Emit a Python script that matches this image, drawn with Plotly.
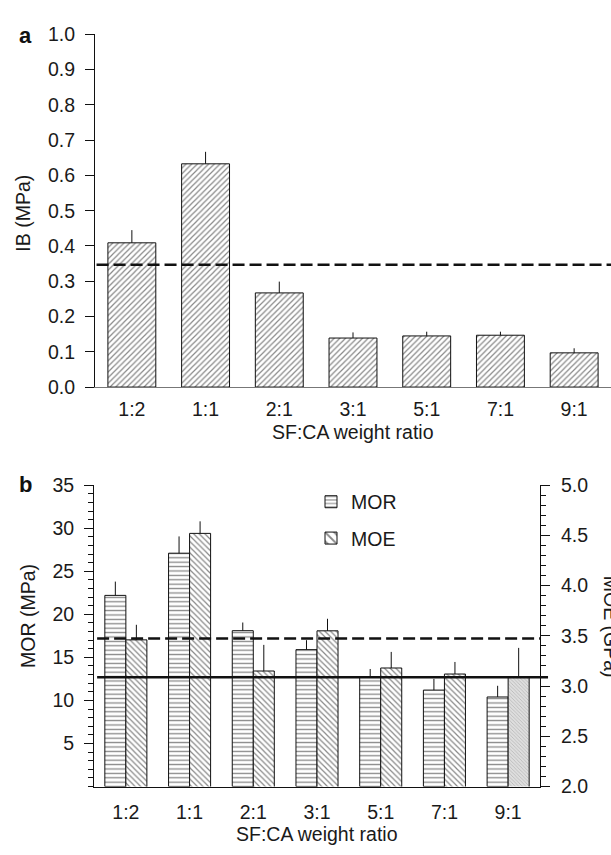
import plotly.graph_objects as go

# ---------------- data ----------------
RATIOS = ["1:2", "1:1", "2:1", "3:1", "5:1", "7:1", "9:1"]

IB = [0.409, 0.633, 0.267, 0.139, 0.145, 0.147, 0.097]
IB_SD = [0.036, 0.034, 0.032, 0.016, 0.012, 0.010, 0.013]
IB_REF = 0.347

MOR = [22.2, 27.1, 18.1, 15.9, 12.7, 11.2, 10.4]
MOR_SD = [1.6, 1.95, 0.95, 1.1, 0.95, 1.3, 1.3]
MOE = [3.46, 4.52, 3.15, 3.55, 3.18, 3.12, 3.09]
MOE_SD = [0.15, 0.12, 0.26, 0.12, 0.16, 0.12, 0.29]
MOR_REF_DASH = 17.2
MOR_REF_SOLID = 12.7

IB_TICKS = [0.0, 0.1, 0.2, 0.3, 0.4, 0.5, 0.6, 0.7, 0.8, 0.9, 1.0]
MOR_TICKS = [5, 10, 15, 20, 25, 30, 35]
MOE_TICKS = [2.0, 2.5, 3.0, 3.5, 4.0, 4.5, 5.0]

# ---------------- layout helpers ----------------
W, H = 611, 855
FONT = "Liberation Sans, Arial, Helvetica, sans-serif"
FS = 19.5


def px_x(v):
    return v / W


def px_y(v):
    return 1 - v / H


fig = go.Figure()

# Panel a bars
fig.add_trace(go.Bar(
    x=RATIOS, y=IB, xaxis="x", yaxis="y", width=0.65, showlegend=False,
    marker=dict(color="white", line=dict(color="#111", width=1),
                pattern=dict(shape="/", size=4, solidity=0.3, fgcolor="#111", bgcolor="white")),
    error_y=dict(type="data", symmetric=False, array=IB_SD, arrayminus=[0] * len(IB),
                 width=0, thickness=1, color="#111"),
))

# Panel b bars
fig.add_trace(go.Bar(
    x=RATIOS, y=MOR, xaxis="x2", yaxis="y2", width=0.33, offset=-0.33, name="MOR",
    legendgroup="g1",
    marker=dict(color="white", line=dict(color="#111", width=1),
                pattern=dict(shape="-", size=4.4, solidity=0.3, fgcolor="#111", bgcolor="white")),
    error_y=dict(type="data", symmetric=False, array=MOR_SD, arrayminus=[0] * len(MOR),
                 width=0, thickness=1, color="#111"),
))
fig.add_trace(go.Bar(
    x=RATIOS, y=MOE, xaxis="x2", yaxis="y3", width=0.33, offset=0.0, name="MOE",
    legendgroup="g2",
    marker=dict(color="white", line=dict(color="#111", width=1),
                pattern=dict(shape="\\", size=[4] * 6 + [2.5], solidity=0.3,
                             fgcolor=["#111"] * 6 + ["#8a8a8a"],
                             bgcolor=["white"] * 6 + ["#dedede"])),
    error_y=dict(type="data", symmetric=False, array=MOE_SD, arrayminus=[0] * len(MOE),
                 width=0, thickness=1, color="#111"),
))

tickfont = dict(family=FONT, size=FS, color="#1a1a1a")

fig.update_layout(
    width=W, height=H, margin=dict(l=0, r=0, t=0, b=0),
    paper_bgcolor="white", plot_bgcolor="rgba(0,0,0,0)",
    font=dict(family=FONT, size=FS, color="#1a1a1a"),
    showlegend=True,
    legend=dict(x=px_x(311), y=px_y(484), xanchor="left", yanchor="top",
                bgcolor="rgba(0,0,0,0)", font=dict(family=FONT, size=FS),
                tracegroupgap=8, traceorder="grouped"),
    xaxis=dict(domain=[px_x(95), 1.0], anchor="y", range=[-0.5, 6.5], type="category",
               showline=True, linecolor="#777", linewidth=1, ticks="", showgrid=False,
               zeroline=False, tickfont=tickfont, ticklabelstandoff=5),
    yaxis=dict(domain=[px_y(386), px_y(24)], anchor="x", range=[0, 1.0],
               tickvals=IB_TICKS, tickformat=".1f", ticks="outside", ticklen=9,
               tickcolor="#111", showline=True, linecolor="#111", linewidth=1,
               showgrid=False, zeroline=False, tickfont=tickfont, ticklabelstandoff=6),
    xaxis2=dict(domain=[px_x(94), px_x(540)], anchor="y2", range=[-0.5, 6.5], type="category",
                showline=True, linecolor="#111", linewidth=1, ticks="", showgrid=False,
                zeroline=False, tickfont=tickfont, ticklabelstandoff=8),
    yaxis2=dict(domain=[px_y(796), px_y(486.7)], anchor="x2", range=[0, 35],
                tickvals=MOR_TICKS, ticks="outside", ticklen=9, tickcolor="#111",
                minor=dict(tickmode="linear", tick0=0, dtick=1, ticks="outside", ticklen=5,
                           tickcolor="#111", showgrid=False),
                showline=True, linecolor="#111", linewidth=1, showgrid=False,
                zeroline=False, tickfont=tickfont, ticklabelstandoff=6),
    yaxis3=dict(overlaying="y2", side="right", anchor="x2", range=[2.0, 5.0],
                tickvals=MOE_TICKS, tickformat=".1f", ticks="outside", ticklen=9,
                tickcolor="#111",
                minor=dict(tickmode="linear", tick0=2.0, dtick=0.1, ticks="outside",
                           ticklen=5, tickcolor="#111", showgrid=False),
                showline=True, linecolor="#111", linewidth=1, showgrid=False,
                zeroline=False, tickfont=tickfont, ticklabelstandoff=7),
)

# Reference lines
fig.add_shape(type="line", xref="x domain", yref="y", x0=0.003, x1=1.0, y0=IB_REF, y1=IB_REF,
              line=dict(color="#111", width=2.6, dash="12px,5px"))
fig.add_shape(type="line", xref="x2 domain", yref="y2", x0=0.007, x1=1.0,
              y0=MOR_REF_DASH, y1=MOR_REF_DASH,
              line=dict(color="#111", width=2.6, dash="12px,5px"))
fig.add_shape(type="line", xref="x2 domain", yref="y2", x0=0.007, x1=1.018,
              y0=MOR_REF_SOLID, y1=MOR_REF_SOLID,
              line=dict(color="#111", width=2.6))

# Titles and panel labels
ann = [
    dict(text="<b>a</b>", x=px_x(25), y=px_y(25), font=dict(family=FONT, size=22, color="#111")),
    dict(text="<b>b</b>", x=px_x(25), y=px_y(486), font=dict(family=FONT, size=22, color="#111")),
    dict(text="IB (MPa)", x=px_x(23), y=px_y(208), textangle=-90),
    dict(text="MOR (MPa)", x=px_x(28), y=px_y(621), textangle=-90),
    dict(text="MOE (GPa)", x=px_x(611), y=px_y(632), textangle=90),
    dict(text="SF:CA weight ratio", x=px_x(353), y=px_y(432)),
    dict(text="SF:CA weight ratio", x=px_x(317), y=px_y(845)),
]
for a in ann:
    a.setdefault("font", dict(family=FONT, size=FS, color="#1a1a1a"))
    fig.add_annotation(xref="paper", yref="paper", showarrow=False, xanchor="center",
                       yanchor="middle", **a)

fig.write_html("out.html")
